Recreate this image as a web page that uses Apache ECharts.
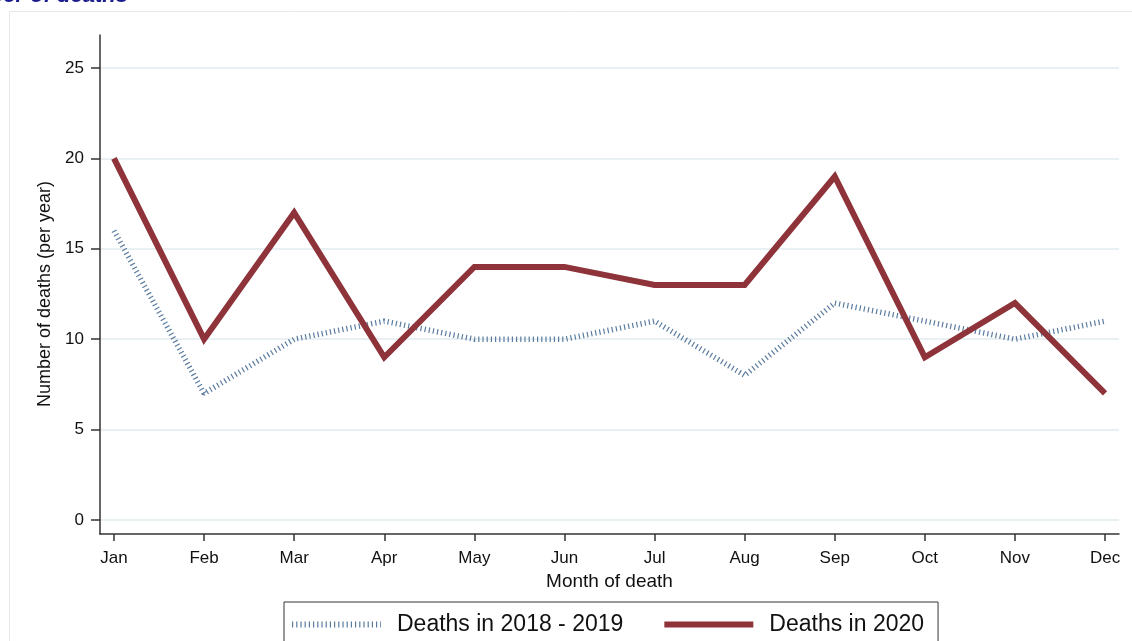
<!DOCTYPE html>
<html>
<head>
<meta charset="utf-8">
<title>Number of deaths</title>
<script src="https://cdn.jsdelivr.net/npm/echarts@6/dist/echarts.min.js"></script>
<style>
  html, body { margin: 0; padding: 0; background: #ffffff; }
  #chart { width: 1132px; height: 641px; }
</style>
</head>
<body>
<div id="chart"></div>
<script>
// Monthly death counts
const months = ['Jan', 'Feb', 'Mar', 'Apr', 'May', 'Jun', 'Jul', 'Aug', 'Sep', 'Oct', 'Nov', 'Dec'];
const monthIndex = [1, 2, 3, 4, 5, 6, 7, 8, 9, 10, 11, 12];
const deaths2018to2019 = [16, 7, 10, 11, 10, 10, 11, 8, 12, 11, 10, 11];
const deaths2020 = [20, 10, 17, 9, 14, 14, 13, 13, 19, 9, 12, 7];
const yTicks = [0, 5, 10, 15, 20, 25];
const seriesNames = ['Deaths in 2018 - 2019', 'Deaths in 2020'];

const FONT = '"Liberation Sans", Arial, sans-serif';
const COLOR_PAST = '#5a7b9e';
const COLOR_2020 = '#8d3339';
const DASH_PAST = [1.2, 3];

const toPairs = (vals) => monthIndex.map((m, i) => [m, vals[i]]);

const chart = echarts.init(document.getElementById('chart'), null, { renderer: 'canvas' });

chart.setOption({
  backgroundColor: '#ffffff',
  animation: false,
  textStyle: { fontFamily: FONT, color: '#111111' },
  graphic: [
    {
      type: 'rect',
      shape: { x: 9.5, y: 11.5, width: 1200, height: 700 },
      style: { fill: 'none', stroke: '#e6e9ec', lineWidth: 1 },
      silent: true,
      z: -10
    },
    {
      type: 'text',
      x: 128,
      y: 7,
      style: {
        text: 'Number of deaths',
        align: 'right',
        verticalAlign: 'bottom',
        font: 'italic bold 22px ' + FONT,
        fill: '#1c1c8e'
      },
      silent: true
    }
  ],
  grid: [
    { left: 100, right: 13, top: 68, bottom: 121 },
    { left: 100, right: 13, top: 35, bottom: 107 }
  ],
  xAxis: [
    {
      gridIndex: 0,
      type: 'value',
      min: 0.845,
      max: 12.155,
      offset: 14,
      axisLine: { show: true, onZero: false, lineStyle: { color: '#333333', width: 1.5 } },
      axisTick: {
        show: true,
        length: 7,
        customValues: monthIndex,
        lineStyle: { color: '#333333', width: 1.5 }
      },
      axisLabel: {
        customValues: monthIndex,
        formatter: (v) => months[Math.round(v) - 1] || '',
        fontSize: 17,
        margin: 16,
        color: '#111111',
        fontFamily: FONT
      },
      splitLine: { show: false },
      name: 'Month of death',
      nameLocation: 'middle',
      nameGap: 33,
      nameTextStyle: { fontSize: 19, color: '#111111', fontFamily: FONT }
    },
    {
      gridIndex: 1,
      type: 'value',
      min: 0,
      max: 1,
      show: false
    }
  ],
  yAxis: [
    {
      gridIndex: 0,
      type: 'value',
      min: 0,
      max: 25,
      interval: 5,
      axisLine: { show: false },
      axisTick: { show: true, length: 9, lineStyle: { color: '#333333', width: 1.5 } },
      axisLabel: {
        fontSize: 17,
        margin: 16,
        color: '#111111',
        fontFamily: FONT,
        customValues: yTicks
      },
      splitLine: { show: true, lineStyle: { color: '#e8f0f4', width: 2 } },
      name: 'Number of deaths (per year)',
      nameLocation: 'middle',
      nameGap: 45,
      nameTextStyle: { fontSize: 18, color: '#111111', fontFamily: FONT }
    },
    {
      gridIndex: 1,
      type: 'value',
      min: 0,
      max: 1,
      axisLine: { show: true, onZero: false, lineStyle: { color: '#333333', width: 1.5 } },
      axisTick: { show: false },
      axisLabel: { show: false },
      splitLine: { show: false }
    }
  ],
  legend: {
    left: 284,
    top: 602,
    orient: 'horizontal',
    itemWidth: 89,
    itemHeight: 26,
    itemGap: 38,
    padding: [11, 14, 9, 5],
    borderColor: '#333333',
    borderWidth: 1,
    backgroundColor: '#ffffff',
    textStyle: { fontSize: 23, color: '#111111', fontFamily: FONT, padding: [0, 0, 0, 11] },
    itemStyle: { color: 'rgba(0,0,0,0)', borderColor: 'rgba(0,0,0,0)', borderWidth: 0 },
    data: [
      { name: seriesNames[0], lineStyle: { color: COLOR_PAST, width: 6, type: DASH_PAST, cap: 'butt' } },
      { name: seriesNames[1], lineStyle: { color: COLOR_2020, width: 6, cap: 'butt' } }
    ]
  },
  series: [
    {
      name: seriesNames[0],
      type: 'line',
      xAxisIndex: 0,
      yAxisIndex: 0,
      data: toPairs(deaths2018to2019),
      symbol: 'none',
      lineStyle: { color: COLOR_PAST, width: 5.5, type: DASH_PAST, cap: 'butt' },
      itemStyle: { color: COLOR_PAST },
      z: 2
    },
    {
      name: seriesNames[1],
      type: 'line',
      xAxisIndex: 0,
      yAxisIndex: 0,
      data: toPairs(deaths2020),
      symbol: 'none',
      lineStyle: { color: COLOR_2020, width: 6, join: 'miter', cap: 'butt' },
      itemStyle: { color: COLOR_2020 },
      z: 3
    }
  ]
});
</script>
</body>
</html>
